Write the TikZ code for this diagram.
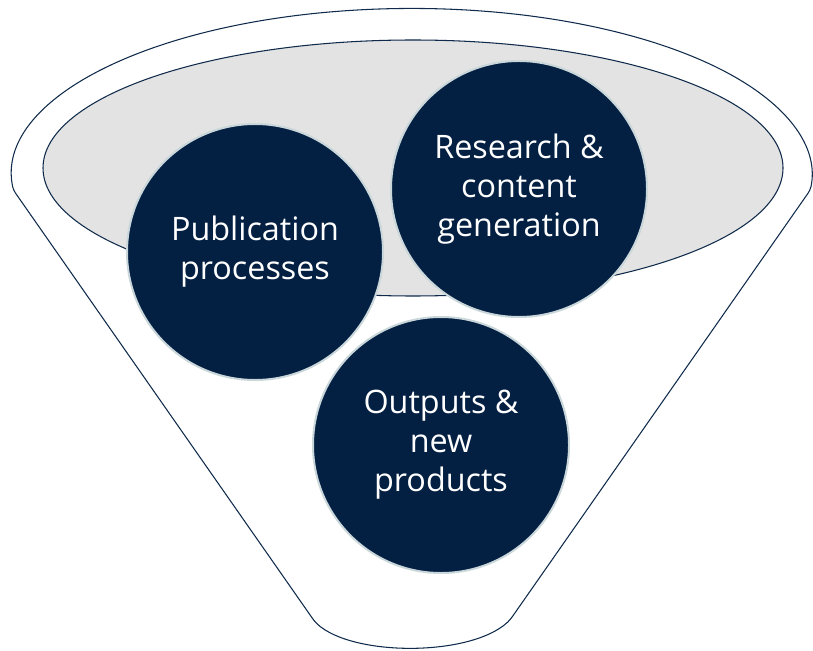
\documentclass[tikz,border=0pt]{standalone}
\usepackage{fontspec}
\setmainfont{Open Sans}
\usetikzlibrary{positioning}
\definecolor{navy}{HTML}{031F42}
\definecolor{rimline}{HTML}{0F2A4A}
\definecolor{bowlgray}{HTML}{E3E3E3}
\definecolor{halo}{HTML}{C9D6DA}

\begin{document}
\begin{tikzpicture}[
  bubble/.style={circle, fill=navy, draw=halo, line width=1.7pt,
    minimum size=7.68cm, inner sep=0pt, text=white, align=center,
    font=\fontsize{27.6}{33.4}\selectfont},
]

% Canvas
\useasboundingbox (0,0) rectangle (24.39,19.5);

% Funnel outline
\draw[rimline, line width=0.9pt, fill=white, rounded corners=3pt]
  (0.40,13.8) arc[start angle=185, end angle=-5, x radius=12, y radius=5.01]
  -- (15.3,0.9)
  .. controls (14.1,-0.2) and (10.6,-0.2) .. (9.45,0.84)
  -- cycle;

% Mouth of the funnel
\draw[rimline, line width=0.9pt, fill=bowlgray] (12.39,14.46) ellipse[x radius=11.1, y radius=3.84];

% Stages
\node[bubble] (pub) at (7.65,11.94) {Publication\\processes};
\node[bubble] (res) at (15.57,13.83) {Research \&\\content\\generation};
\node[bubble] (out) at (13.23,6.15) {Outputs \&\\new\\products};

\end{tikzpicture}
\end{document}
